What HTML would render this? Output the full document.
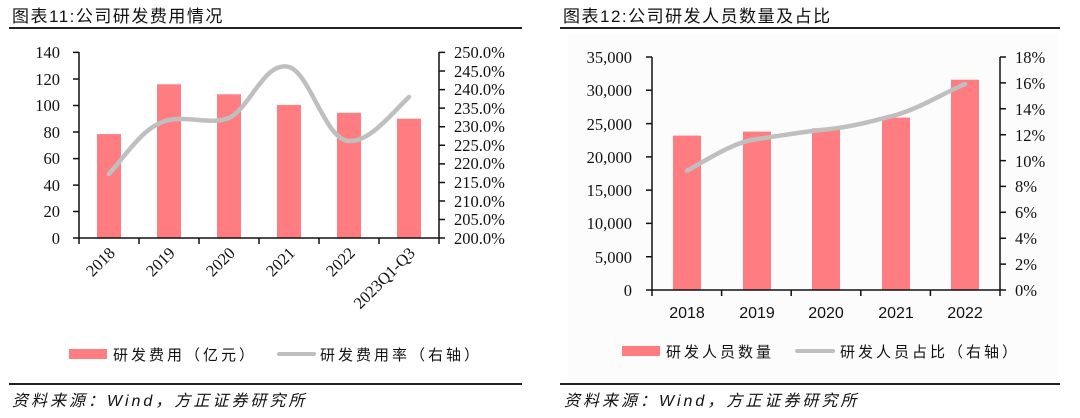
<!DOCTYPE html>
<html><head><meta charset="utf-8"><style>
body{margin:0;background:#fff;}
svg{display:block;}
.t{font-family:"Liberation Serif","Noto Serif CJK SC",serif;font-size:16.5px;fill:#111;}
.c{font-family:"Liberation Sans","Noto Sans CJK SC",sans-serif;fill:#111;}
.i{font-family:"Liberation Sans","Noto Sans CJK SC",sans-serif;font-style:italic;font-size:16px;fill:#111;letter-spacing:3px;}
</style></head><body>
<svg width="1080" height="418" viewBox="0 0 1080 418" xmlns="http://www.w3.org/2000/svg">
<!-- LEFT PANEL -->
<text x="12" y="22" class="c" font-size="17" letter-spacing="1.5">图表11:公司研发费用情况</text>
<rect x="9" y="27" width="513" height="2" fill="#222"/>
<g fill="#ff7c80">
<rect x="97" y="134.1" width="24" height="103.9"/>
<rect x="157" y="84.3" width="24" height="153.7"/>
<rect x="217" y="94.3" width="24" height="143.7"/>
<rect x="277" y="104.9" width="24" height="133.1"/>
<rect x="337" y="112.8" width="24" height="125.2"/>
<rect x="397" y="118.7" width="24" height="119.3"/>
</g>
<path d="M109,174 C130,150 145,125 169,120 C190,116 210,125 229,118 C250,108 265,60 289,67 C310,73 325,140 349,141 C370,142 390,115 409,97" fill="none" stroke="#bfbfbf" stroke-width="4.5" stroke-linecap="round"/>
<g stroke="#111" stroke-width="1.5" fill="none">
<path d="M79,52 V238 M439,52 V238 M73,238 H445"/>
<path d="M73,52.4H79M73,79H79M73,105.5H79M73,132H79M73,158.6H79M73,185.1H79M73,211.5H79"/>
<path d="M439,52.4H445M439,71H445M439,89.6H445M439,108.1H445M439,126.7H445M439,145.3H445M439,163.9H445M439,182.5H445M439,201H445M439,219.5H445"/>
<path d="M79,238V244M139,238V244M199,238V244M259,238V244M319,238V244M379,238V244M439,238V244"/>
</g>
<g class="t" text-anchor="end">
<text x="60" y="58">140</text><text x="60" y="85">120</text><text x="60" y="111">100</text><text x="60" y="138">80</text><text x="60" y="164">60</text><text x="60" y="191">40</text><text x="60" y="217">20</text><text x="60" y="244">0</text>
</g>
<g class="t">
<text x="454" y="58">250.0%</text><text x="454" y="77">245.0%</text><text x="454" y="95">240.0%</text><text x="454" y="114">235.0%</text><text x="454" y="132">230.0%</text><text x="454" y="151">225.0%</text><text x="454" y="169">220.0%</text><text x="454" y="188">215.0%</text><text x="454" y="207">210.0%</text><text x="454" y="225">205.0%</text><text x="454" y="244">200.0%</text>
</g>
<g class="t" text-anchor="end">
<text transform="translate(116,254) rotate(-45)">2018</text>
<text transform="translate(176,254) rotate(-45)">2019</text>
<text transform="translate(236,254) rotate(-45)">2020</text>
<text transform="translate(296,254) rotate(-45)">2021</text>
<text transform="translate(356,254) rotate(-45)">2022</text>
<text transform="translate(416,254) rotate(-45)">2023Q1-Q3</text>
</g>
<rect x="69" y="349" width="38" height="10" fill="#ff7c80"/>
<text x="113" y="360" class="c" font-size="15" letter-spacing="3">研发费用（亿元）</text>
<rect x="277" y="352" width="39" height="4" fill="#bfbfbf" rx="2"/>
<text x="320" y="360" class="c" font-size="15" letter-spacing="3">研发费用率（右轴）</text>
<rect x="9" y="383" width="513" height="2" fill="#222"/>
<text x="12" y="406" class="i">资料来源：Wind，方正证券研究所</text>

<!-- RIGHT PANEL -->
<rect x="568" y="34" width="490" height="345" fill="#fcfcfc"/>
<text x="563" y="22" class="c" font-size="17" letter-spacing="1.5">图表12:公司研发人员数量及占比</text>
<rect x="560" y="27" width="500" height="2" fill="#222"/>
<g fill="#ff7c80">
<rect x="673" y="135.6" width="28" height="154.4"/>
<rect x="743" y="131.6" width="28" height="158.4"/>
<rect x="812" y="128.3" width="28" height="161.7"/>
<rect x="882" y="117.6" width="28" height="172.4"/>
<rect x="951" y="79.7" width="28" height="210.3"/>
</g>
<path d="M687,170.7 C715,155 735,142 757,139 C780,136 800,132 826,129.5 C850,127 870,122 896,115 C920,108 940,95 965,84" fill="none" stroke="#bfbfbf" stroke-width="4.5" stroke-linecap="round"/>
<g stroke="#111" stroke-width="1.5" fill="none">
<path d="M652,57 V290 M1000,57 V290 M646,290 H1006"/>
<path d="M646,57H652M646,90.3H652M646,123.6H652M646,156.9H652M646,190.1H652M646,223.4H652M646,256.7H652"/>
<path d="M1000,57H1006M1000,82.9H1006M1000,108.8H1006M1000,134.7H1006M1000,160.6H1006M1000,186.4H1006M1000,212.3H1006M1000,238.2H1006M1000,264.1H1006"/>
<path d="M652,290V296M721.6,290V296M791.2,290V296M860.8,290V296M930.4,290V296M1000,290V296"/>
</g>
<g class="t" text-anchor="end">
<text x="632" y="63">35,000</text><text x="632" y="96">30,000</text><text x="632" y="130">25,000</text><text x="632" y="163">20,000</text><text x="632" y="196">15,000</text><text x="632" y="229">10,000</text><text x="632" y="263">5,000</text><text x="632" y="296">0</text>
</g>
<g class="t">
<text x="1015" y="63">18%</text><text x="1015" y="89">16%</text><text x="1015" y="115">14%</text><text x="1015" y="141">12%</text><text x="1015" y="167">10%</text><text x="1015" y="192">8%</text><text x="1015" y="218">6%</text><text x="1015" y="244">4%</text><text x="1015" y="270">2%</text><text x="1015" y="296">0%</text>
</g>
<g class="c" font-size="16" text-anchor="middle">
<text x="687" y="318">2018</text><text x="757" y="318">2019</text><text x="826" y="318">2020</text><text x="896" y="318">2021</text><text x="965" y="318">2022</text>
</g>
<rect x="622" y="346" width="38" height="10" fill="#ff7c80"/>
<text x="666" y="357" class="c" font-size="15" letter-spacing="3">研发人员数量</text>
<rect x="795" y="349" width="40" height="4" fill="#bfbfbf" rx="2"/>
<text x="840" y="357" class="c" font-size="15" letter-spacing="3">研发人员占比（右轴）</text>
<rect x="560" y="383" width="500" height="2" fill="#222"/>
<text x="564" y="406" class="i">资料来源：Wind，方正证券研究所</text>
</svg>
</body></html>
